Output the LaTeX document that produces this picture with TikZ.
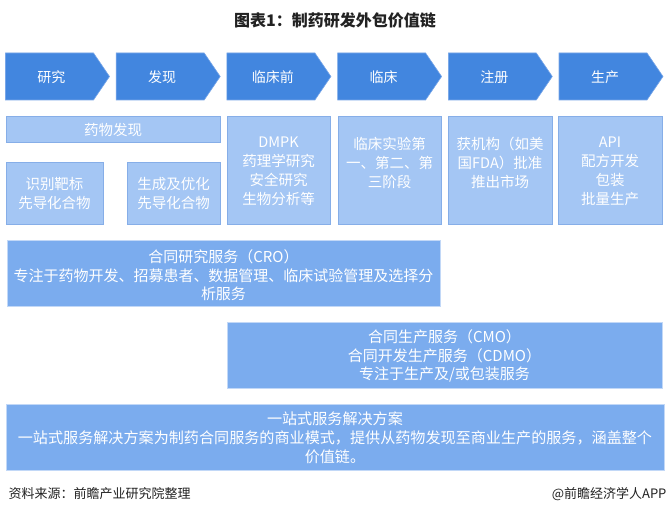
\documentclass[tikz,border=0pt]{standalone}
\usepackage{fontspec}
\setmainfont{Noto Sans CJK SC}
\definecolor{chevfill}{HTML}{4286DF}
\definecolor{chevdraw}{HTML}{78A6E8}
\definecolor{lightfill}{HTML}{A4C6F4}
\definecolor{lightdraw}{HTML}{86AEE8}
\definecolor{bigfill}{HTML}{7BACEE}
\definecolor{bigdraw}{HTML}{C2D8F7}
\definecolor{titlecol}{HTML}{222222}
\begin{document}
\begin{tikzpicture}[x=1pt,y=-1pt,
  chevtext/.style={text=white,font=\fontsize{14}{17}\selectfont,anchor=center},
  lightbox/.style={fill=lightfill,draw=lightdraw,line width=0.8pt},
  bigbox/.style={fill=bigfill,draw=bigdraw,line width=1pt},
  boxtext/.style={text=white,align=center,font=\fontsize{14.5}{19}\selectfont,anchor=center},
  bigtext/.style={text=white,align=center,font=\fontsize{15}{18.5}\selectfont,anchor=center}]
\useasboundingbox (0,0) rectangle (670,516);
\fill[white] (0,0) rectangle (670,516);
% title
\node[font=\bfseries\fontsize{16}{18}\selectfont,text=titlecol] (title) at (335,20) {图表1：制药研发外包价值链};
% chevrons
\foreach \i/\lab in {0/研究,1/发现,2/临床前,3/临床,4/注册,5/生产}{
  \pgfmathsetmacro{\xa}{5.5+110.7*\i}
  \draw[fill=chevfill,draw=chevdraw,line width=0.6pt] (\xa,53) -- ({\xa+88},53) -- ({\xa+104},76.5) -- ({\xa+88},100) -- (\xa,100) -- cycle;
  \node[chevtext] (chev\i) at ({\xa+46},77) {\lab};
}
% row of light boxes
\draw[lightbox] (6,116) rectangle (220,142);
\node[boxtext] (discovery) at (113,129.5) {药物发现};
\draw[lightbox] (6,162) rectangle (103,224);
\node[boxtext] (target) at (54.5,194) {识别靶标\\先导化合物};
\draw[lightbox] (127,162) rectangle (220,224);
\node[boxtext] (optim) at (173.5,194) {生成及优化\\先导化合物};
\draw[lightbox] (227,116) rectangle (330,224);
\node[boxtext] (dmpk) at (278.5,171) {DMPK\\药理学研究\\安全研究\\生物分析等};
\draw[lightbox] (338,116) rectangle (441,224);
\node[boxtext] (clinic) at (389.5,163) {临床实验第\\一、第二、第\\三阶段};
\draw[lightbox] (448,116) rectangle (552,224);
\node[boxtext] (reg) at (500,163) {获机构（如美\\国FDA）批准\\推出市场};
\draw[lightbox] (558,116) rectangle (662,224);
\node[boxtext] (prod) at (610,171) {API\\配方开发\\包装\\批量生产};
% big boxes
\draw[bigbox] (7,241) rectangle (440,306);
\node[bigtext] (cro) at (223.5,275.5) {合同研究服务（CRO）\\专注于药物开发、招募患者、数据管理、临床试验管理及选择分\\析服务};
\draw[bigbox] (227,322) rectangle (662,388);
\node[bigtext] (cmo) at (444.5,356) {合同生产服务（CMO）\\合同开发生产服务（CDMO）\\专注于生产及/或包装服务};
\draw[bigbox] (6,404) rectangle (664,470);
\node[bigtext,font=\fontsize{15.1}{19}\selectfont] (onestop) at (335,438) {一站式服务解决方案\\一站式服务解决方案为制药合同服务的商业模式，提供从药物发现至商业生产的服务，涵盖整个\\价值链。};
% footer
\node[anchor=west,font=\fontsize{13}{15}\selectfont,text=titlecol] (src) at (5,494) {资料来源：前瞻产业研究院整理};
\node[anchor=east,font=\fontsize{13}{15}\selectfont,text=titlecol] (brand) at (670,494) {@前瞻经济学人APP};
\end{tikzpicture}
\end{document}
